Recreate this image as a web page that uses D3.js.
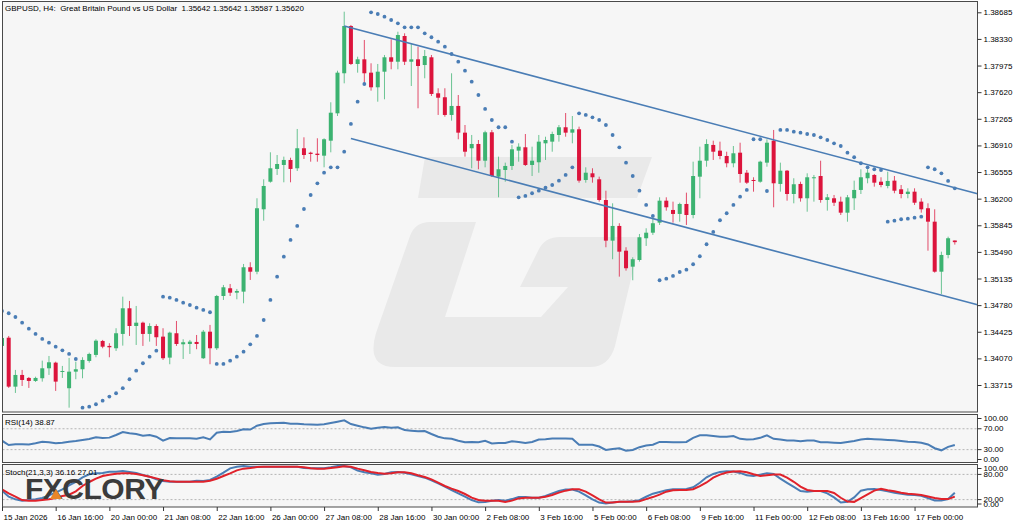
<!DOCTYPE html>
<html>
<head>
<meta charset="utf-8">
<script src="https://cdn.jsdelivr.net/npm/d3@7"></script>
<style>
body { margin: 0; background: #ffffff; }
svg { display: block; font-family: "Liberation Sans", Arial, sans-serif; }
.lbl { font-size: 8px; fill: #000; white-space: pre; }
</style>
</head>
<body>
<svg id="chart" width="1024" height="524"></svg>
<script>
// GBPUSD H4 candles, one per bar, oldest first
var opens = [1.34236,1.34346,1.33693,1.33849,1.33809,1.33769,1.33805,1.33938,1.34013,1.33889,
1.33672,1.33893,1.33925,1.34036,1.34116,1.34302,1.34236,1.34205,1.34396,1.34738,
1.34502,1.34546,1.34396,1.34502,1.34360,1.34080,1.34405,1.34258,1.34262,1.34289,
1.34072,1.34426,1.34205,1.34902,1.35005,1.34946,1.34960,1.35285,1.35226,1.36058,
1.36426,1.36596,1.36649,1.36716,1.36605,1.36872,1.36813,1.36800,1.36773,1.36973,
1.37338,1.37872,1.38502,1.37996,1.38058,1.37880,1.37685,1.37893,1.38085,1.38026,
1.38369,1.38026,1.38058,1.37982,1.38085,1.37605,1.37552,1.37316,1.37436,1.37080,
1.36872,1.36929,1.36706,1.37085,1.36493,1.36582,1.36636,1.36840,1.36885,1.36649,
1.36685,1.36938,1.36960,1.37049,1.37152,1.37080,1.37125,1.36449,1.36538,1.36458,
1.36182,1.35640,1.35836,1.35506,1.35293,1.35382,1.35672,1.35746,1.35880,1.36173,
1.36049,1.35996,1.36129,1.35982,1.36493,1.36706,1.36916,1.36840,1.36769,1.36672,
1.36813,1.36546,1.36449,1.36426,1.36680,1.36973,1.36396,1.36573,1.36262,1.36396,
1.36205,1.36472,1.36502,1.36182,1.36205,1.36160,1.36013,1.36205,1.36316,1.36472,
1.36516,1.36426,1.36369,1.36440,1.36325,1.36262,1.36293,1.36160,1.36072,1.35893,
1.35226,1.35449,1.35642];
var highs = [1.34369,1.34369,1.33916,1.33916,1.33822,1.33826,1.34040,1.34102,1.34026,1.33969,
1.34076,1.34026,1.34085,1.34146,1.34325,1.34316,1.34272,1.34472,1.34893,1.34836,
1.34769,1.34560,1.34538,1.34525,1.34472,1.34426,1.34569,1.34325,1.34316,1.34382,
1.34449,1.34516,1.34916,1.35049,1.35062,1.34996,1.35329,1.35352,1.36205,1.36458,
1.36818,1.36782,1.36760,1.36746,1.37129,1.37018,1.36826,1.37005,1.37005,1.37485,
1.37906,1.38693,1.38516,1.38093,1.38316,1.38005,1.37996,1.38116,1.38325,1.38426,
1.38405,1.38272,1.38226,1.38182,1.38116,1.37672,1.37672,1.37872,1.37582,1.37182,
1.37049,1.36982,1.37106,1.37116,1.36760,1.36680,1.36916,1.36938,1.37062,1.36893,
1.37049,1.37026,1.37093,1.37182,1.37342,1.37302,1.37160,1.36618,1.36605,1.36493,
1.36306,1.36138,1.35872,1.35552,1.35418,1.35729,1.35805,1.35960,1.36218,1.36218,
1.36160,1.36146,1.36280,1.36693,1.36893,1.36992,1.36973,1.36960,1.36826,1.36902,
1.36946,1.36582,1.36485,1.36706,1.36992,1.37116,1.36680,1.36582,1.36472,1.36426,
1.36538,1.36516,1.36706,1.36262,1.36249,1.36226,1.36249,1.36440,1.36592,1.36592,
1.36529,1.36485,1.36560,1.36502,1.36382,1.36338,1.36338,1.36205,1.36138,1.36058,
1.35493,1.35693,1.35642];
var lows = [1.34182,1.33676,1.33609,1.33702,1.33676,1.33756,1.33760,1.33849,1.33636,1.33809,
1.33413,1.33792,1.33805,1.34013,1.34085,1.34205,1.34085,1.34169,1.34240,1.34369,
1.34249,1.34236,1.34293,1.34236,1.34049,1.33992,1.34236,1.34062,1.34129,1.34192,
1.34062,1.33992,1.34182,1.34849,1.34902,1.34858,1.34805,1.35116,1.35192,1.35906,
1.36413,1.36516,1.36418,1.36418,1.36569,1.36729,1.36693,1.36693,1.36618,1.36818,
1.37302,1.37738,1.37982,1.37880,1.37738,1.37640,1.37493,1.37525,1.37925,1.37925,
1.37982,1.37702,1.37405,1.37805,1.37569,1.37316,1.37293,1.37240,1.36992,1.36760,
1.36605,1.36592,1.36618,1.36489,1.36218,1.36426,1.36582,1.36693,1.36636,1.36502,
1.36546,1.36716,1.36826,1.36960,1.37026,1.36938,1.36413,1.36413,1.36413,1.36160,
1.35552,1.35392,1.35160,1.35240,1.35112,1.35360,1.35569,1.35716,1.35849,1.36040,
1.35880,1.35893,1.35849,1.35938,1.36205,1.36626,1.36716,1.36725,1.36618,1.36618,
1.36413,1.36396,1.36293,1.36413,1.36626,1.36085,1.36293,1.36173,1.36138,1.36160,
1.36026,1.36160,1.36146,1.36040,1.36102,1.35982,1.35893,1.36049,1.36262,1.36405,
1.36360,1.36352,1.36338,1.36272,1.36205,1.36205,1.36116,1.36013,1.35506,1.35213,
1.34929,1.35405,1.35587];
var closes = [1.34342,1.33693,1.33849,1.33782,1.33769,1.33809,1.33938,1.34018,1.33760,1.33902,
1.33893,1.33925,1.34049,1.34129,1.34306,1.34226,1.34218,1.34405,1.34738,1.34502,
1.34546,1.34396,1.34502,1.34352,1.34072,1.34413,1.34262,1.34285,1.34293,1.34262,
1.34426,1.34205,1.34902,1.35018,1.34946,1.34969,1.35285,1.35226,1.36072,1.36369,
1.36605,1.36662,1.36716,1.36596,1.36872,1.36782,1.36796,1.36782,1.36992,1.37346,
1.37880,1.38502,1.37996,1.38058,1.37872,1.37685,1.37893,1.38085,1.38026,1.38382,
1.38026,1.38058,1.37969,1.38102,1.37596,1.37546,1.37316,1.37436,1.37080,1.36826,
1.36929,1.36706,1.37085,1.36502,1.36592,1.36636,1.36858,1.36893,1.36649,1.36706,
1.36960,1.36982,1.37062,1.37152,1.37080,1.37125,1.36440,1.36546,1.36485,1.36182,
1.35640,1.35836,1.35493,1.35272,1.35392,1.35685,1.35746,1.35872,1.36173,1.36085,
1.35996,1.36129,1.35982,1.36502,1.36706,1.36929,1.36826,1.36769,1.36672,1.36805,
1.36529,1.36413,1.36436,1.36693,1.36946,1.36405,1.36573,1.36262,1.36392,1.36205,
1.36485,1.36485,1.36182,1.36218,1.36146,1.36013,1.36218,1.36316,1.36485,1.36546,
1.36413,1.36382,1.36436,1.36306,1.36262,1.36293,1.36146,1.36058,1.35893,1.35226,
1.35449,1.35672,1.35620];

// Parabolic SAR, one per bar (null = no dot)
var sar = [1.34702,1.34672,1.34622,1.34546,1.34466,1.34396,1.34329,1.34280,1.34226,1.34178,
1.34129,1.34062,1.33413,1.33426,1.33458,1.33506,1.33560,1.33605,1.33672,1.33792,
1.33906,1.34005,1.34093,1.34173,1.34893,1.34880,1.34849,1.34813,1.34782,1.34746,
1.34716,1.34685,1.33996,1.33996,1.34040,1.34093,1.34160,1.34258,1.34369,1.34582,
1.34849,1.35160,1.35426,1.35649,1.35836,1.36062,1.36249,1.36405,1.36546,1.36618,
1.36618,1.36826,1.37196,1.37493,1.37729,1.38685,1.38662,1.38626,1.38582,1.38538,
1.38485,1.38485,1.38485,1.38405,1.38352,1.38293,1.38226,1.38129,1.38026,1.37906,
1.37760,1.37582,1.37396,1.37249,1.37152,1.37152,1.36960,1.36218,1.36236,1.36272,
1.36306,1.36346,1.36382,1.36440,1.36516,1.36618,1.37338,1.37316,1.37285,1.37249,
1.37182,1.37049,1.36885,1.36680,1.36502,1.36306,1.36116,1.35969,1.35112,1.35133,
1.35169,1.35222,1.35253,1.35325,1.35432,1.35592,1.35756,1.35912,1.36005,1.36116,
1.36226,1.36316,1.36992,1.36992,1.36302,null,1.37116,1.37116,1.37093,1.37080,
1.37062,1.37049,1.37018,1.36982,1.36938,1.36902,1.36813,1.36752,1.36672,1.36618,
1.36592,1.36582,1.35893,1.35906,1.35925,1.35933,1.35946,1.35960,1.36618,1.36592,
1.36538,1.36436,1.36338];

var rsi = [47.1,38.8,40.2,40.2,40.0,42.1,45.1,44.0,42.1,43.2,
45.1,46.5,48.4,50.3,53.6,52.2,53.0,58.0,63.7,61.2,
59.9,56.6,58.0,54.7,47.1,52.2,51.6,51.6,51.6,51.0,
53.6,49.7,62.4,64.3,64.0,65.6,68.9,68.5,75.8,79.0,
80.4,81.0,81.5,79.5,79.8,78.5,78.3,77.8,78.5,81.0,
83.5,86.1,79.0,75.8,72.7,70.2,72.0,73.3,72.0,72.7,
67.5,66.2,65.0,65.6,59.9,54.7,51.6,51.0,47.1,44.0,
44.6,44.0,47.0,42.0,42.5,42.6,46.0,44.8,42.6,44.8,
49.3,50.0,51.3,51.3,51.3,50.7,39.4,39.4,39.4,36.0,
29.4,31.3,32.7,28.0,29.4,34.7,38.0,39.4,44.8,44.8,
44.0,44.0,44.8,52.6,57.4,57.4,56.0,54.7,54.7,56.0,
50.7,49.3,50.0,52.6,57.4,50.7,49.3,47.3,47.3,46.0,
47.3,47.3,44.0,44.0,43.3,42.6,44.8,46.6,49.3,50.7,
50.0,49.3,48.7,48.0,46.6,45.3,44.8,43.3,40.0,32.7,
28.7,35.3,38.87];

var stochK = [41.3,27.0,20.6,17.5,19.0,20.6,23.8,30.2,36.5,44.4,
53.9,61.9,73.0,80.2,82.5,83.3,86.5,86.5,88.1,85.7,
83.3,78.6,74.6,68.2,64.3,62.7,62.7,62.7,62.7,65.1,
64.3,66.7,74.6,84.1,94.4,98.4,100,98.4,98.4,98.4,
98.4,98.4,98.4,98.4,98.4,95.2,94.4,94.4,94.4,96.8,
100,100,96.8,88.9,84.9,82.5,79.4,81.0,84.9,85.7,
84.1,80.2,76.2,72.2,65.9,58.7,50.8,42.9,34.9,27.0,
19.0,13.5,14.3,17.5,19.0,17.5,21.2,26.0,26.0,24.4,
24.4,28.5,34.9,40.5,43.8,43.8,38.9,30.1,20.4,13.0,
10.6,13.0,14.6,14.6,16.2,18.7,26.8,34.1,38.1,42.2,
44.6,44.6,45.5,49.4,60.0,73.0,81.1,86.0,87.6,86.8,
83.5,77.9,76.2,79.5,82.7,81.1,69.8,60.0,50.3,40.5,
38.9,40.5,40.5,34.9,25.2,13.0,14.6,25.2,41.3,44.6,
45.5,43.0,39.7,36.5,34.1,31.7,30.9,29.3,23.6,17.9,
17.9,21.2,36.16];
var stochD = [44.4,34.9,27.0,19.0,17.5,17.5,19.0,20.6,23.8,28.6,
31.7,39.7,52.4,61.9,69.8,76.2,79.4,81.7,82.5,82.5,
81.0,77.8,74.6,70.6,65.9,63.5,62.7,62.7,62.7,62.7,
62.7,65.1,69.8,76.2,82.5,89.7,93.7,95.2,97.6,98.4,
98.4,98.4,98.4,98.4,98.4,96.8,94.4,93.7,93.7,95.2,
96.8,99.2,98.4,93.7,89.7,85.7,83.3,81.7,82.5,84.9,
84.9,82.5,77.8,73.8,68.2,60.3,52.4,46.0,40.5,33.3,
24.6,19.0,17.5,17.5,17.5,14.6,17.5,22.8,24.4,24.4,
24.4,26.8,30.9,36.6,41.3,44.6,44.6,38.9,30.1,20.4,
13.0,13.0,14.6,14.6,14.6,16.2,21.2,26.0,31.7,38.9,
42.2,43.0,43.0,44.6,52.0,60.8,72.2,79.5,84.3,86.8,
87.6,84.9,80.3,76.2,77.9,79.5,79.5,72.2,62.4,51.1,
43.0,40.5,40.5,40.5,35.7,24.4,15.4,14.6,23.6,32.5,
41.3,45.5,42.2,39.7,36.5,34.1,32.5,30.9,27.6,23.6,
21.2,21.2,27.01];

// trend channel anchors [bar, price]
var channelUpper = [[51, 1.38502], [102, 1.37293]];
var channelLower = [[52, 1.37002], [102, 1.35815]];

var priceTicks = [1.38685,1.38330,1.37975,1.37620,1.37265,1.36910,1.36555,1.36200,
  1.35845,1.35490,1.35135,1.34780,1.34425,1.34070,1.33715];
var rsiLevels = [70, 30];
var rsiTicks = [100, 70, 30, 0];
var stochLevels = [80, 20];
var stochTicks = [100, 80, 20, 0];
var timeIdx = [0,8,16,24,32,40,48,56,64,72,80,88,96,104,112,120,128,136];
var timeText = ['15 Jan 2026','16 Jan 16:00','20 Jan 00:00','21 Jan 08:00','22 Jan 16:00',
  '26 Jan 00:00','27 Jan 08:00','28 Jan 16:00','30 Jan 00:00','2 Feb 08:00','3 Feb 16:00',
  '5 Feb 00:00','6 Feb 08:00','9 Feb 16:00','11 Feb 00:00','12 Feb 08:00','13 Feb 16:00',
  '17 Feb 00:00'];

var svg = d3.select('#chart');
var left = 2.5, right = 977.5;
var panels = {
  main: {top: 1.5, bottom: 412},
  rsi: {top: 414.5, bottom: 462.5},
  sto: {top: 464.5, bottom: 507}
};

var x = d3.scaleLinear().domain([0, 142]).range([2, 2 + 6.71 * 142]);
var y = d3.scaleLinear().domain([1.33715, 1.38685]).range([385, 12.3]);
var yRsi = d3.scaleLinear().domain([0, 100]).range([465.3, 413.1]);
var ySto = d3.scaleLinear().domain([0, 100]).range([508, 466]);

var blue = '#4a7db5', green = '#3cb371', red = '#dc143c';
var defs = svg.append('defs');

// panel backgrounds + clips
Object.keys(panels).forEach(function(k) {
  var p = panels[k];
  svg.append('rect').attr('x', left).attr('y', p.top)
    .attr('width', right - left).attr('height', p.bottom - p.top)
    .attr('fill', '#f6f6f6');
  defs.append('clipPath').attr('id', 'clip-' + k).append('rect')
    .attr('x', left).attr('y', p.top).attr('width', right - left).attr('height', p.bottom - p.top);
});

var main = svg.append('g').attr('clip-path', 'url(#clip-main)');

// watermark logo
main.append('path')
  .attr('d', 'M425,157 L652,157 L637,198 L418,198 Z')
  .attr('fill', '#e9e9e9');
main.append('path')
  .attr('d', 'M395,367 L590,367 Q609,367 615,346 L641,237 L560,237 Q545,237 539,249 L520,287 L568,287 L541,317 L445,317 L476,222 L430,222 Q415,222 410,236 L376,333 Q366,367 395,367 Z')
  .attr('fill', '#e9e9e9');

// candles
var bars = d3.range(opens.length);
main.selectAll('line.wick').data(bars).enter().append('line')
  .attr('class', 'wick')
  .attr('x1', function(i) { return x(i); })
  .attr('x2', function(i) { return x(i); })
  .attr('y1', function(i) { return y(highs[i]); })
  .attr('y2', function(i) { return y(lows[i]); })
  .attr('stroke', function(i) { return closes[i] >= opens[i] ? green : red; })
  .attr('stroke-opacity', 0.75)
  .attr('stroke-width', 1);
main.selectAll('rect.body').data(bars).enter().append('rect')
  .attr('class', 'body')
  .attr('x', function(i) { return x(i) - 2; })
  .attr('width', 4)
  .attr('y', function(i) { return y(Math.max(opens[i], closes[i])); })
  .attr('height', function(i) { return Math.max(1, Math.abs(y(opens[i]) - y(closes[i]))); })
  .attr('fill', function(i) { return closes[i] >= opens[i] ? green : red; });

// SAR dots
main.selectAll('circle.sar').data(bars.filter(function(i) { return sar[i] !== null; }))
  .enter().append('circle')
  .attr('class', 'sar')
  .attr('cx', function(i) { return x(i); })
  .attr('cy', function(i) { return y(sar[i]); })
  .attr('r', 1.9)
  .attr('fill', blue);

// channel rays
var iEnd = x.invert(right);
[channelUpper, channelLower].forEach(function(c) {
  var slope = (c[1][1] - c[0][1]) / (c[1][0] - c[0][0]);
  var pEnd = c[0][1] + slope * (iEnd - c[0][0]);
  main.append('line')
    .attr('x1', x(c[0][0])).attr('y1', y(c[0][1]))
    .attr('x2', x(iEnd)).attr('y2', y(pEnd))
    .attr('stroke', blue).attr('stroke-width', 1.6);
});

// RSI panel
var rsiG = svg.append('g').attr('clip-path', 'url(#clip-rsi)');
rsiLevels.forEach(function(v) {
  rsiG.append('line').attr('x1', left).attr('x2', right)
    .attr('y1', yRsi(v)).attr('y2', yRsi(v))
    .attr('stroke', '#b5b5b5').attr('stroke-dasharray', '2,2');
});
rsiG.append('path').datum(rsi)
  .attr('d', d3.line().x(function(d, i) { return x(i); }).y(function(d) { return yRsi(d); }))
  .attr('fill', 'none').attr('stroke', blue).attr('stroke-width', 2);

// Stochastic panel
var stoG = svg.append('g').attr('clip-path', 'url(#clip-sto)');
stochLevels.forEach(function(v) {
  stoG.append('line').attr('x1', left).attr('x2', right)
    .attr('y1', ySto(v)).attr('y2', ySto(v))
    .attr('stroke', '#b5b5b5').attr('stroke-dasharray', '2,2');
});
stoG.append('path').datum(stochK)
  .attr('d', d3.line().x(function(d, i) { return x(i); }).y(function(d) { return ySto(d); }))
  .attr('fill', 'none').attr('stroke', blue).attr('stroke-width', 2);
stoG.append('path').datum(stochD)
  .attr('d', d3.line().x(function(d, i) { return x(i); }).y(function(d) { return ySto(d); }))
  .attr('fill', 'none').attr('stroke', '#e0222b').attr('stroke-width', 2);

// panel borders
Object.keys(panels).forEach(function(k) {
  var p = panels[k];
  svg.append('rect').attr('x', left).attr('y', p.top)
    .attr('width', right - left).attr('height', p.bottom - p.top)
    .attr('fill', 'none').attr('stroke', '#4a4a4a').attr('stroke-width', 1);
});

// price axis
var priceAxis = d3.axisRight(y).tickValues(priceTicks)
  .tickFormat(d3.format('.5f')).tickSize(4).tickPadding(2);
svg.append('g').attr('transform', 'translate(' + right + ',0)').call(priceAxis)
  .call(function(g) {
    g.select('.domain').remove();
    g.selectAll('line').attr('stroke', '#333');
    g.selectAll('text').attr('class', 'lbl').attr('font-family', null).attr('font-size', null);
  });

// indicator axes, labels kept inside their panel
function sideLabels(scale, ticks, p) {
  var g = svg.append('g');
  ticks.forEach(function(v) {
    var yy = Math.max(p.top + 4, Math.min(p.bottom - 3, scale(v)));
    g.append('line').attr('x1', right).attr('x2', right + 4).attr('y1', yy).attr('y2', yy)
      .attr('stroke', '#333');
    g.append('text').attr('class', 'lbl').attr('x', right + 6).attr('y', yy)
      .attr('dy', '0.32em').text(d3.format('.2f')(v));
  });
}
sideLabels(yRsi, rsiTicks, panels.rsi);
sideLabels(ySto, stochTicks, panels.sto);

// time axis
var timeAxis = d3.axisBottom(x).tickValues(timeIdx)
  .tickFormat(function(d, i) { return timeText[i]; }).tickSize(4).tickPadding(3);
svg.append('g').attr('transform', 'translate(0,' + panels.sto.bottom + ')').call(timeAxis)
  .call(function(g) {
    g.select('.domain').remove();
    g.selectAll('line').attr('stroke', '#333');
    g.selectAll('text').attr('class', 'lbl').attr('font-family', null).attr('font-size', null)
      .attr('text-anchor', 'start').attr('dx', '1');
  });

// titles
svg.append('text').attr('class', 'lbl').attr('x', 5).attr('y', 11)
  .text('GBPUSD, H4:  Great Britain Pound vs US Dollar  1.35642 1.35642 1.35587 1.35620');
svg.append('text').attr('class', 'lbl').attr('x', 5).attr('y', 425).text('RSI(14) 38.87');
svg.append('text').attr('class', 'lbl').attr('x', 5).attr('y', 475).text('Stoch(21,3,3) 36.16 27.01');

// FXCLORY stamp
var logo = svg.append('g');
logo.append('text').attr('x', 25).attr('y', 499)
  .attr('font-size', 30).attr('font-weight', 'bold').attr('fill', '#3b3b3b')
  .attr('letter-spacing', -0.5).text('FXCLORY');
logo.append('path').attr('d', 'M50,499 L56,489 L62,499 Z').attr('fill', '#e8862a');
</script>
</body>
</html>
